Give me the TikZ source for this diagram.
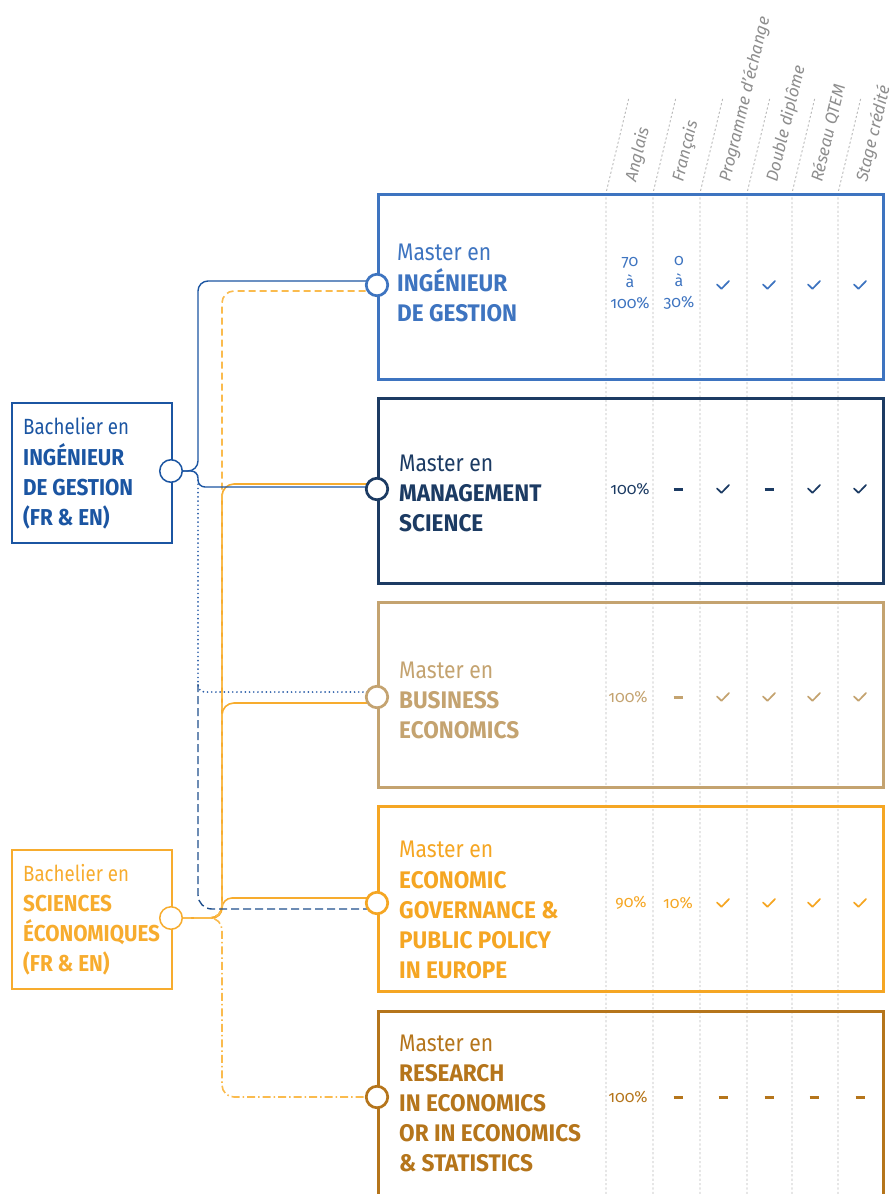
\documentclass[tikz,border=0pt]{standalone}
\usepackage{fontspec}
\setmainfont{Fira Sans}
\newfontfamily\mfont[FakeStretch=0.88]{Fira Sans}
\newfontfamily\bfont[FakeStretch=0.85]{Fira Sans}
\newfontfamily\cfont[FakeStretch=0.94]{Fira Sans}
\newfontfamily\dfont[FakeStretch=0.90]{Fira Sans}
\newfontfamily\numfont[Numbers=OldStyle]{Fira Sans}
\usetikzlibrary{backgrounds,calc}
\definecolor{cA}{HTML}{3E74C0}
\definecolor{cB}{HTML}{1C3B63}
\definecolor{cC}{HTML}{C4A370}
\definecolor{cD}{HTML}{F5A623}
\definecolor{cE}{HTML}{B5751B}
\definecolor{bIG}{HTML}{1B55A2}
\definecolor{bSE}{HTML}{F7AC2E}
\definecolor{seLight}{HTML}{FABB4E}
\definecolor{lnNavy}{HTML}{1F4E8C}
\definecolor{lnDot}{HTML}{2A5DA8}
\definecolor{gridc}{HTML}{B8B8B8}
\definecolor{hdrc}{HTML}{8E8E8E}
\tikzset{
  mbox/.style={draw, line width=2.6pt, minimum width=505pt, anchor=north west, inner sep=0},
  bachbox/.style={draw, line width=1.5pt, minimum width=160pt, minimum height=140pt, anchor=north west, inner sep=0},
  ringM/.style={circle, fill=white, line width=2.7pt, minimum size=21.5pt, inner sep=0, draw},
  ringB/.style={circle, fill=white, line width=1.5pt, minimum size=22.5pt, inner sep=0, draw},
  gridln/.style={draw=gridc, line width=0.9pt, dash pattern=on 2.2pt off 2.2pt},
  hdr/.style={anchor=base west, rotate=76.5, inner sep=0, text=hdrc, font=\itshape\fontsize{16.8}{20}\selectfont},
  mline/.style={anchor=base west, inner sep=0, font=\mfont\fontsize{24}{30}\selectfont},
  mcap/.style={anchor=base west, inner sep=0, font=\cfont\bfseries\fontsize{24}{30}\selectfont},
  bline/.style={anchor=base west, inner sep=0, font=\bfont\fontsize{22}{30}\selectfont},
  bcap/.style={anchor=base west, inner sep=0, font=\dfont\bfseries\fontsize{23}{30}\selectfont},
  numtxt/.style={align=center, inner sep=0, font=\numfont\fontsize{16}{21}\selectfont},
  igline/.style={draw=bIG, line width=1.4pt},
  igdot/.style={draw=lnDot, line width=1.9pt, line cap=round, dash pattern=on 0pt off 4.2pt},
  igdash/.style={draw=lnNavy, line width=1.4pt, dash pattern=on 8pt off 4pt},
  seline/.style={draw=bSE, line width=1.6pt},
  sedash/.style={draw=seLight, line width=1.6pt, dash pattern=on 7pt off 4pt},
  sedashdot/.style={draw=seLight, line width=1.6pt, dash pattern=on 8pt off 3pt on 1.5pt off 3pt},
  chk/.pic={\draw[line width=1.7pt, line cap=round, line join=round] (-6,-0.5) -- (-1.5,3.8) -- (6,-4);},
  dsh/.pic={\draw[line width=3pt] (-4.5,0) -- (4.5,0);}
}
\begin{document}
\begin{tikzpicture}[x=1pt,y=-1pt]
\useasboundingbox (0,0) rectangle (893,1194);
\clip (0,0) rectangle (893,1194);

% master boxes
\node[mbox, draw=cA, minimum height=185pt] (m1) at (377,193) {};
\node[mbox, draw=cB, minimum height=185pt] (m2) at (377,397) {};
\node[mbox, draw=cC, minimum height=185pt] (m3) at (377,601) {};
\node[mbox, draw=cD, minimum height=185pt] (m4) at (377,805) {};
\node[mbox, draw=cE, minimum height=220pt] (m5) at (377,1010) {};

% bachelor boxes
\node[bachbox, draw=bIG] (b1) at (11,402) {};
\node[bachbox, draw=bSE, minimum height=139pt] (b2) at (11,849) {};

% rings
\node[ringM, draw=cA] (m1c) at (377,285) {};
\node[ringM, draw=cB] (m2c) at (377,489) {};
\node[ringM, draw=cC] (m3c) at (377,697) {};
\node[ringM, draw=cD] (m4c) at (377,903) {};
\node[ringM, draw=cE] (m5c) at (377,1097) {};
\node[ringB, draw=bIG] (bIGc) at (171,471) {};
\node[ringB, draw=bSE] (bSEc) at (171,918) {};

\begin{scope}[on background layer]
  % grid lines
  \foreach \gx in {606,653,700,747,792,838} {
    \draw[gridln] (\gx,1194) -- (\gx,193) -- ++(22.9,-95.3);
  }
  % orange connectors
  \draw[seline, rounded corners=10] (bSEc.east) -| (222,898) -- ($(m4c)+(0,-5)$);
  \draw[seline, rounded corners=12] (bSEc.east) -| (222,703) -- ($(m3c)+(0,6)$);
  \draw[seline, rounded corners=12] (bSEc.east) -| (222,484) -- ($(m2c)+(0,-5)$);
  \draw[sedash, rounded corners=12] (bSEc.east) -| (222,291) -- ($(m1c)+(0,6)$);
  \draw[sedashdot, rounded corners=12] (bSEc.east) -| (222,1097) -- (m5c);
  % blue connectors
  \coordinate (igsplit) at (198,684);
  \draw[igline, rounded corners=10] (bIGc.east) -| (198,281) -- ($(m1c)+(0,-4)$);
  \draw[igline, rounded corners=7] (bIGc.east) -| (198,487) -- ($(m2c)+(0,-2)$);
  \draw[igdot, rounded corners=7] (bIGc.east) -| (198,692) -- ($(m3c)+(0,-5)$);
  \draw[igdash, rounded corners=14] (igsplit) -- (198,909) -- ($(m4c)+(0,6)$);
\end{scope}

% headers
\node[hdr] (h1) at (636,183) {Anglais};
\node[hdr] (h2) at (683,183) {Français};
\node[hdr] (h3) at (730,183) {Programme d’échange};
\node[hdr] (h4) at (777,183) {Double diplôme};
\node[hdr] (h5) at (822,183) {Réseau QTEM};
\node[hdr] (h6) at (867,183) {Stage crédité};

% master texts
\node[mline, text=cA] (t11) at (397,260) {Master en};
\node[mcap, text=cA] (t12) at (397,291) {INGÉNIEUR};
\node[mcap, text=cA] (t13) at (397,321) {DE GESTION};

\node[mline, text=cB] (t21) at (399,471) {Master en};
\node[mcap, text=cB] (t22) at (399,501) {MANAGEMENT};
\node[mcap, text=cB] (t23) at (399,531) {SCIENCE};

\node[mline, text=cC] (t31) at (399,678) {Master en};
\node[mcap, text=cC] (t32) at (399,708) {BUSINESS};
\node[mcap, text=cC] (t33) at (399,738) {ECONOMICS};

\node[mline, text=cD] (t41) at (399,857) {Master en};
\node[mcap, text=cD] (t42) at (399,888) {ECONOMIC};
\node[mcap, text=cD] (t43) at (399,918) {GOVERNANCE \&};
\node[mcap, text=cD] (t44) at (399,948) {PUBLIC POLICY};
\node[mcap, text=cD] (t45) at (399,978) {IN EUROPE};

\node[mline, text=cE] (t51) at (399,1051) {Master en};
\node[mcap, text=cE] (t52) at (399,1081) {RESEARCH};
\node[mcap, text=cE] (t53) at (399,1111) {IN ECONOMICS};
\node[mcap, text=cE] (t54) at (399,1141) {OR IN ECONOMICS};
\node[mcap, text=cE] (t55) at (399,1171) {\& STATISTICS};

% bachelor texts
\node[bline, text=bIG] (u11) at (23,434) {Bachelier en};
\node[bcap, text=bIG] (u12) at (23,465) {INGÉNIEUR};
\node[bcap, text=bIG] (u13) at (23,495) {DE GESTION};
\node[bcap, text=bIG] (u14) at (23,525) {(FR \& EN)};

\node[bline, text=bSE] (u21) at (23,881) {Bachelier en};
\node[bcap, text=bSE] (u22) at (23,911) {SCIENCES};
\node[bcap, text=bSE] (u23) at (23,941) {ÉCONOMIQUES};
\node[bcap, text=bSE] (u24) at (23,971) {(FR \& EN)};

% row 1
\node[numtxt, text=cA] (n11) at (630,283) {70\\à\\100\%};
\node[numtxt, text=cA] (n12) at (679,283) {0\\à\\30\%};
\foreach \cx in {723,769,814,860} { \pic[color=cA] at (\cx,285) {chk}; }
% row 2
\node[numtxt, text=cB] (n21) at (630,489) {100\%};
\pic[color=cB] at (678,489) {dsh};
\pic[color=cB] at (723,489) {chk};
\pic[color=cB] at (769,489) {dsh};
\pic[color=cB] at (814,489) {chk};
\pic[color=cB] at (860,489) {chk};
% row 3
\node[numtxt, text=cC] (n31) at (628,697) {100\%};
\pic[color=cC] at (678,697) {dsh};
\foreach \cx in {723,769,814,860} { \pic[color=cC] at (\cx,697) {chk}; }
% row 4
\node[numtxt, text=cD] (n41) at (631,903) {90\%};
\node[numtxt, text=cD] (n42) at (678,903) {10\%};
\foreach \cx in {723,769,814,860} { \pic[color=cD] at (\cx,903) {chk}; }
% row 5
\node[numtxt, text=cE] (n51) at (628,1097) {100\%};
\foreach \cx in {678,723,769,814,860} { \pic[color=cE] at (\cx,1097) {dsh}; }
\end{tikzpicture}
\end{document}
